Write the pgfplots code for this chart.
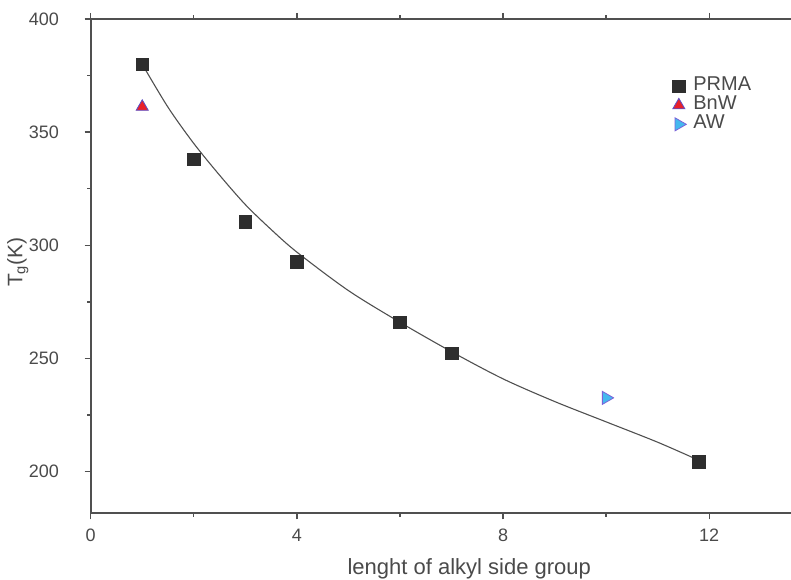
\documentclass[border=0pt]{standalone}
\usepackage{fontspec}
\setmainfont{Liberation Sans}
\usepackage{pgfplots}
\pgfplotsset{compat=1.18}
\definecolor{axgray}{HTML}{505050}
\definecolor{txtgray}{HTML}{4A4A4A}
\definecolor{sqfill}{HTML}{2E2E2E}
\definecolor{bnwred}{HTML}{E8202A}
\definecolor{bnwedge}{HTML}{5A4FC8}
\definecolor{awblue}{HTML}{45B8EE}
\definecolor{awedge}{HTML}{7A62D8}

\begin{document}
\begin{tikzpicture}
\begin{axis}[name=ax,
  scale only axis, width=701bp, height=494.3bp,
  xmin=0, xmax=13.6, ymin=181.6, ymax=400,
  xtick={0,4,8,12}, ytick={200,250,300,350,400},
  minor x tick num=1, minor y tick num=1,
  tick align=outside,
  major tick length=6bp, minor tick length=3.5bp,
  axis line style={line width=1.8bp, axgray},
  every tick/.style={line width=1.4bp, axgray},
  /pgf/number format/assume math mode=true,
  ticklabel style={font=\fontsize{18bp}{20bp}\selectfont, text=txtgray, inner sep=0pt},
  xticklabel style={yshift=-9.5bp},
  yticklabel style={xshift=-25.5bp},
  label style={text=txtgray, inner sep=0pt},
  xlabel={lenght of alkyl side group},
  xlabel style={font=\fontsize{22bp}{26bp}\selectfont, at={(axis description cs:0.54,0)}, anchor=north, yshift=-45bp},
  ylabel={T$_{\mathrm{g}}$(K)},
  ylabel style={font=\fontsize{21bp}{25bp}\selectfont, at={(axis description cs:-0.104,0.508)}, anchor=center},
  legend cell align=left,
  legend image code/.code={\draw[#1] plot coordinates {(0bp,0bp)};},
  legend style={at={(axis description cs:0.830,0.883)}, anchor=north west,
    draw=none, fill=none, inner sep=0pt, outer sep=0pt, row sep=0pt, column sep=7bp,
    font=\fontsize{20bp}{22bp}\selectfont, text=txtgray,
    nodes={inner sep=0pt, text height=14bp, text depth=5bp}},
]
\addplot[only marks, mark=square*, mark size=6.3bp, mark options={fill=sqfill, draw=sqfill}]
  coordinates {(1,380) (2,338) (3,310.5) (4,292.7) (6,266) (7,252.3) (11.8,204.5)};
\addlegendentry{PRMA}
\addplot[only marks, mark=triangle*, mark size=7bp, mark options={fill=bnwred, draw=bnwedge, line width=0.8bp}]
  coordinates {(1,361.2)};
\addlegendentry{BnW}
\addplot[only marks, mark=triangle*, mark size=7.5bp, mark options={fill=awblue, draw=awedge, line width=0.8bp, rotate=-90}]
  coordinates {(10,232.6)};
\addlegendentry{AW}
\addplot[smooth, no marks, axgray, line width=1.1bp, forget plot]
  coordinates {(1,380) (1.5,361) (2,345) (2.5,331) (3,318) (3.5,307) (4,297) (5,280)
               (6,266) (7,253) (8,241) (9,231) (10,222) (11,213) (11.8,205)};
\end{axis}
\pgfresetboundingbox
\path (ax.south west) ++(-90.7bp,-66.7bp) rectangle ++(791bp,580bp);
\end{tikzpicture}
\end{document}
